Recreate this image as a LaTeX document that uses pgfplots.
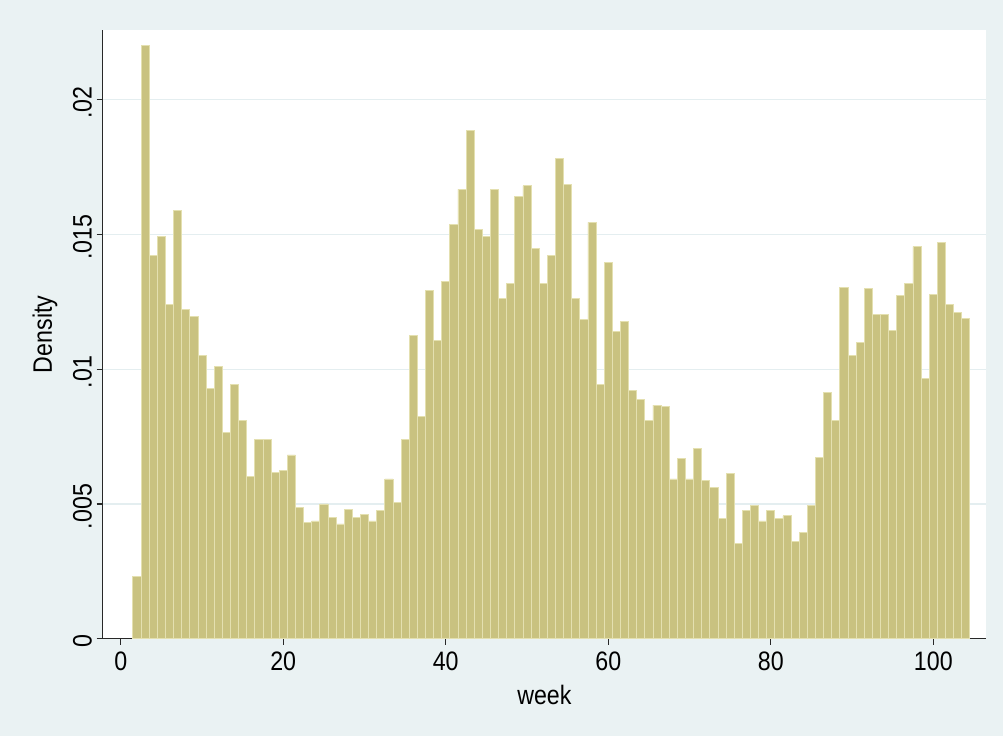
\documentclass[border=0pt]{standalone}
\usepackage{pgfplots}
\pgfplotsset{compat=1.18}
\usepackage{pgfplotstable}
\usepackage{fontspec}
\setmainfont[FakeStretch=0.87]{Liberation Sans}

\definecolor{outerbg}{RGB}{234,242,243}
\definecolor{gridc}{RGB}{228,238,240}
\definecolor{barfill}{RGB}{201,194,128}
\definecolor{baredge}{RGB}{228,224,176}
\definecolor{axisc}{RGB}{40,40,40}

% weekly density, bins of width 1 (left edge, density)
\pgfplotstableread{
left dens
1.5 0.00230
2.5 0.02201
3.5 0.01421
4.5 0.01493
5.5 0.01242
6.5 0.01589
7.5 0.01222
8.5 0.01195
9.5 0.01050
10.5 0.00929
11.5 0.01009
12.5 0.00765
13.5 0.00945
14.5 0.00810
15.5 0.00603
16.5 0.00739
17.5 0.00739
18.5 0.00618
19.5 0.00624
20.5 0.00682
21.5 0.00488
22.5 0.00433
23.5 0.00437
24.5 0.00500
25.5 0.00449
26.5 0.00426
27.5 0.00481
28.5 0.00449
29.5 0.00462
30.5 0.00437
31.5 0.00477
32.5 0.00593
33.5 0.00507
34.5 0.00739
35.5 0.01125
36.5 0.00824
37.5 0.01294
38.5 0.01108
39.5 0.01327
40.5 0.01539
41.5 0.01668
42.5 0.01885
43.5 0.01519
44.5 0.01494
45.5 0.01668
46.5 0.01262
47.5 0.01319
48.5 0.01643
49.5 0.01681
50.5 0.01448
51.5 0.01319
52.5 0.01423
53.5 0.01784
54.5 0.01687
55.5 0.01262
56.5 0.01184
57.5 0.01545
58.5 0.00945
59.5 0.01397
60.5 0.01140
61.5 0.01178
62.5 0.00921
63.5 0.00888
64.5 0.00810
65.5 0.00867
66.5 0.00863
67.5 0.00593
68.5 0.00668
69.5 0.00593
70.5 0.00707
71.5 0.00586
72.5 0.00561
73.5 0.00445
74.5 0.00612
75.5 0.00354
76.5 0.00477
77.5 0.00496
78.5 0.00437
79.5 0.00477
80.5 0.00445
81.5 0.00456
82.5 0.00360
83.5 0.00394
84.5 0.00496
85.5 0.00671
86.5 0.00914
87.5 0.00810
88.5 0.01305
89.5 0.01050
90.5 0.01101
91.5 0.01300
92.5 0.01203
93.5 0.01203
94.5 0.01144
95.5 0.01273
96.5 0.01319
97.5 0.01455
98.5 0.00965
99.5 0.01278
100.5 0.01472
101.5 0.01242
102.5 0.01210
103.5 0.01189
104.5 0.01189
}\weekdens

\begin{document}
\begin{tikzpicture}
\fill[outerbg] (0,0) rectangle (752.25pt,552pt);
\begin{axis}[
  at={(77.03pt,72.98pt)}, anchor=south west,
  scale only axis,
  width=662.5pt, height=456.5pt,
  xmin=-2.215, xmax=106.49,
  ymin=0, ymax=0.02259,
  axis x line*=bottom, axis y line*=left,
  axis line style={axisc, line width=1.1pt},
  axis background/.style={fill=white},
  xtick={0,20,40,60,80,100},
  ytick={0,0.005,0.01,0.015,0.02},
  yticklabels={0,.005,.01,.015,.02},
  scaled y ticks=false,
  /pgf/number format/assume math mode=true,
  tick align=outside,
  major tick length=4.5pt,
  tick style={axisc, line width=0.8pt},
  ymajorgrids,
  grid style={gridc, line width=0.8pt},
  font=\fontsize{20}{22}\selectfont,
  ticklabel style={font=\fontsize{20}{22}\selectfont},
  xticklabel style={anchor=north, yshift=-2pt},
  yticklabel style={rotate=90, anchor=south, xshift=-2pt},
  xlabel={week},
  ylabel={Density},
  xlabel style={at={(axis description cs:0.5,-0.092)}, anchor=center},
  ylabel style={at={(axis description cs:-0.0653,0.5)}, anchor=center, rotate=0},
]
\addplot[ybar interval, fill=barfill, draw=baredge, line width=0.6pt]
  table[x=left, y=dens] {\weekdens};
\end{axis}
\end{tikzpicture}
\end{document}
